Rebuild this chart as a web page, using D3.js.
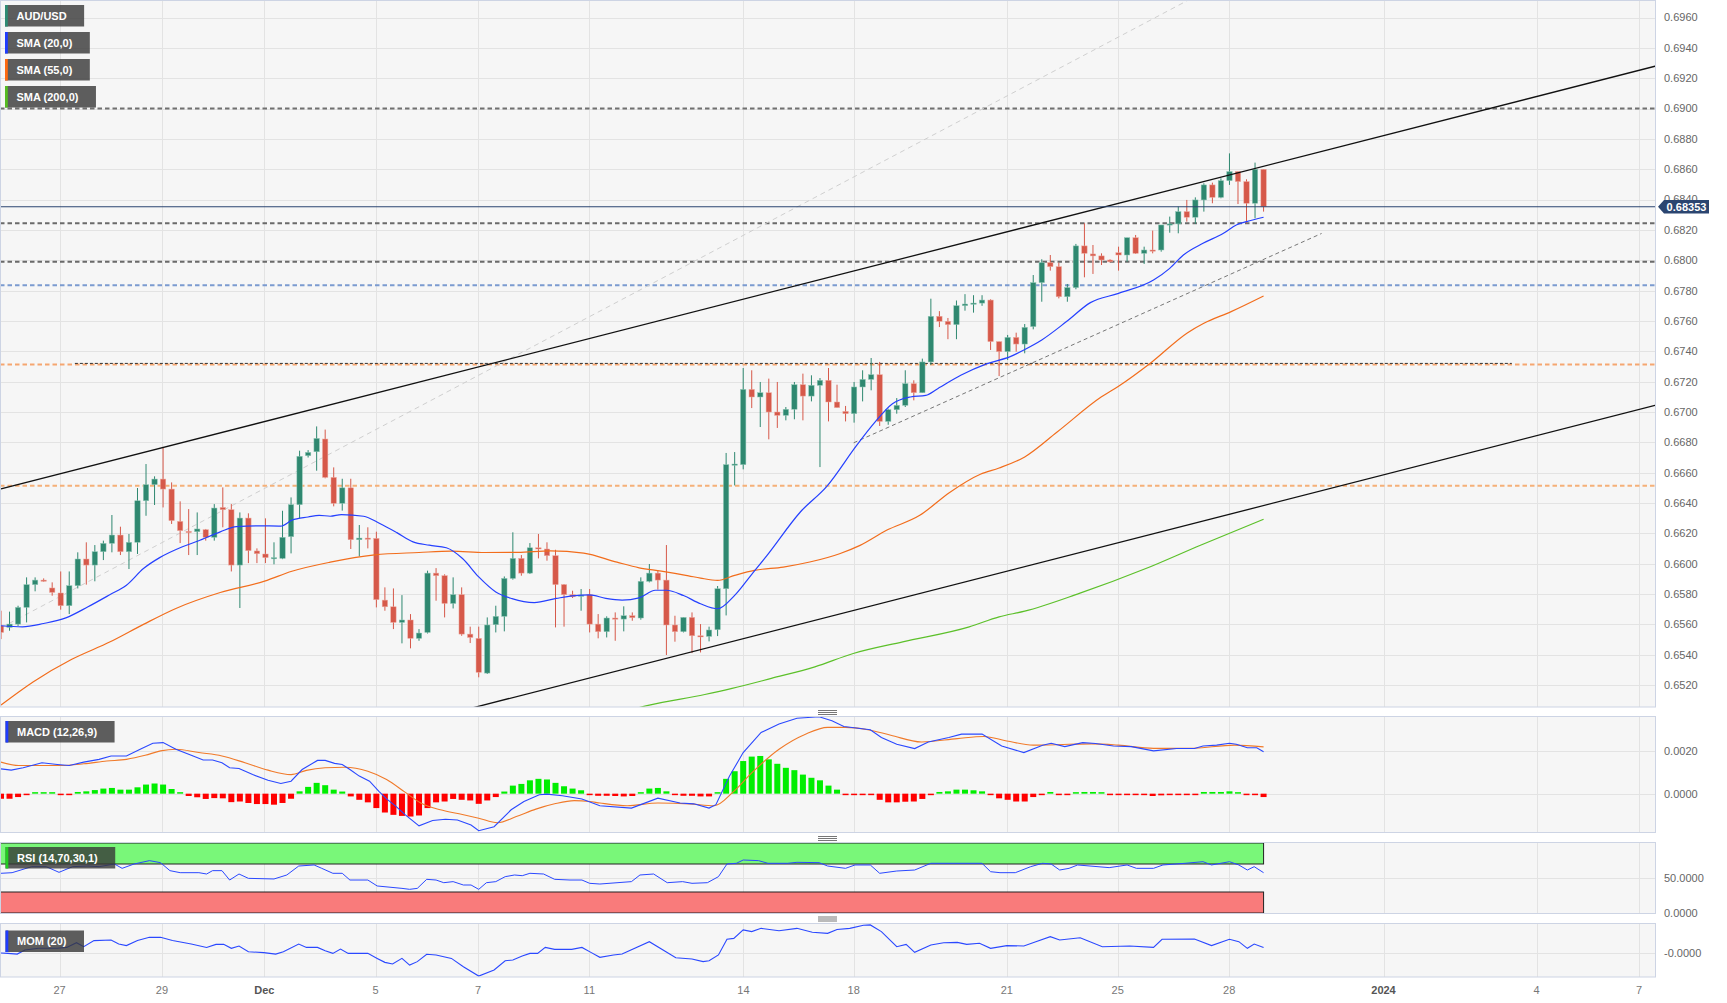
<!DOCTYPE html>
<html><head><meta charset="utf-8">
<script src="https://cdn.jsdelivr.net/npm/d3@7/dist/d3.min.js"></script>
<style>
html,body{margin:0;padding:0;background:#fff;}
svg{display:block;font-family:"Liberation Sans",Arial,Helvetica,sans-serif;}
</style></head><body>
<svg id="chart" width="1727" height="1003"></svg>
<script>
// ---------------- DATA ----------------
const opens=[0.65591,0.65580,0.65602,0.65712,0.65862,0.65892,0.65840,0.65807,0.65723,0.65855,
0.66031,0.65991,0.66079,0.66134,0.66189,0.66079,0.66141,0.66415,0.66521,0.66558,
0.66492,0.66279,0.66213,0.66211,0.66224,0.66174,0.66371,0.66356,0.65991,0.66301,
0.66084,0.66064,0.66035,0.66035,0.66178,0.66389,0.66712,0.66738,0.66822,0.66569,
0.66398,0.66500,0.66158,0.66169,0.66167,0.65760,0.65716,0.65613,0.65629,0.65508,
0.65547,0.65938,0.65921,0.65738,0.65796,0.65536,0.65508,0.65279,0.65598,0.65653,
0.65903,0.66035,0.65938,0.66105,0.66097,0.66053,0.65862,0.65796,0.65785,0.65796,
0.65602,0.65552,0.65642,0.65635,0.65657,0.65642,0.65884,0.65938,0.65892,0.65596,
0.65552,0.65646,0.65525,0.65521,0.65565,0.65835,0.66653,0.66653,0.67149,0.67099,
0.67127,0.67000,0.66978,0.67018,0.67180,0.67105,0.67176,0.67209,0.67066,0.67004,
0.66989,0.67165,0.67215,0.67246,0.66938,0.67015,0.67044,0.67187,0.67127,0.67330,
0.67631,0.67598,0.67576,0.67701,0.67712,0.67718,0.67738,0.67464,0.67398,0.67492,
0.67448,0.67563,0.67853,0.67985,0.67958,0.67760,0.67820,0.68095,0.68042,0.68029,
0.68002,0.68050,0.68035,0.68149,0.68046,0.68068,0.68068,0.68233,0.68240,0.68321,
0.68284,0.68398,0.68497,0.68415,0.68525,0.68585,0.68519,0.68376,0.68600];
const highs=[0.65690,0.65684,0.65723,0.65910,0.65910,0.65903,0.65877,0.65949,0.65949,0.66075,
0.66141,0.66123,0.66152,0.66321,0.66244,0.66196,0.66499,0.66657,0.66576,0.66767,
0.66536,0.66411,0.66360,0.66338,0.66229,0.66393,0.66503,0.66393,0.66338,0.66332,
0.66101,0.66299,0.66141,0.66349,0.66437,0.66745,0.66749,0.66905,0.66884,0.66635,
0.66560,0.66560,0.66255,0.66240,0.66211,0.65844,0.65837,0.65793,0.65668,0.65569,
0.65954,0.65971,0.65930,0.65910,0.65844,0.65585,0.65585,0.65646,0.65723,0.65916,
0.66207,0.66057,0.66136,0.66196,0.66141,0.66092,0.65866,0.65822,0.65833,0.65833,
0.65668,0.65653,0.65679,0.65719,0.65679,0.65910,0.65998,0.65954,0.66123,0.65657,
0.65646,0.65679,0.65602,0.65585,0.65853,0.66730,0.66736,0.67290,0.67275,0.67198,
0.67220,0.67198,0.67033,0.67198,0.67253,0.67242,0.67224,0.67290,0.67180,0.67040,
0.67198,0.67275,0.67356,0.67330,0.67022,0.67092,0.67275,0.67209,0.67352,0.67747,
0.67665,0.67620,0.67735,0.67777,0.67770,0.67770,0.67743,0.67464,0.67508,0.67523,
0.67580,0.67903,0.68007,0.68035,0.67985,0.67844,0.68108,0.68244,0.68101,0.68046,
0.68007,0.68090,0.68149,0.68167,0.68090,0.68196,0.68233,0.68288,0.68354,0.68398,
0.68415,0.68508,0.68512,0.68541,0.68705,0.68585,0.68534,0.68644,0.68600];
const lows=[0.65503,0.65558,0.65590,0.65613,0.65818,0.65881,0.65789,0.65697,0.65668,0.65837,
0.65862,0.65884,0.66024,0.66075,0.66057,0.65965,0.66064,0.66316,0.66387,0.66371,
0.66262,0.66136,0.66057,0.66057,0.66152,0.66152,0.66240,0.65949,0.65708,0.66004,
0.66004,0.66004,0.65996,0.66030,0.66068,0.66299,0.66700,0.66613,0.66563,0.66378,
0.66350,0.66097,0.66048,0.66101,0.65712,0.65690,0.65569,0.65475,0.65442,0.65492,
0.65540,0.65756,0.65646,0.65705,0.65525,0.65477,0.65251,0.65273,0.65547,0.65554,
0.65895,0.65921,0.65932,0.66035,0.66020,0.65580,0.65585,0.65774,0.65690,0.65547,
0.65508,0.65514,0.65492,0.65554,0.65624,0.65631,0.65877,0.65829,0.65398,0.65486,
0.65547,0.65411,0.65415,0.65488,0.65523,0.65659,0.66516,0.66622,0.67026,0.66901,
0.66820,0.66895,0.66945,0.66952,0.66945,0.67070,0.66637,0.66938,0.67029,0.66938,
0.66930,0.67070,0.67143,0.66908,0.66916,0.66989,0.67033,0.67077,0.67127,0.67310,
0.67560,0.67480,0.67480,0.67668,0.67655,0.67700,0.67409,0.67237,0.67343,0.67398,
0.67387,0.67545,0.67727,0.67932,0.67749,0.67727,0.67809,0.67888,0.67910,0.67969,
0.67985,0.67932,0.67991,0.68042,0.67976,0.68046,0.68057,0.68182,0.68178,0.68255,
0.68240,0.68321,0.68376,0.68409,0.68497,0.68371,0.68244,0.68277,0.68321];
const closes=[0.65547,0.65602,0.65712,0.65862,0.65892,0.65886,0.65811,0.65723,0.65855,0.66031,
0.65991,0.66079,0.66134,0.66189,0.66079,0.66141,0.66415,0.66521,0.66558,0.66492,
0.66284,0.66218,0.66207,0.66229,0.66174,0.66367,0.66356,0.65991,0.66301,0.66086,
0.66066,0.66040,0.66040,0.66174,0.66389,0.66708,0.66734,0.66826,0.66569,0.66398,
0.66500,0.66158,0.66169,0.66163,0.65763,0.65716,0.65613,0.65629,0.65508,0.65543,
0.65938,0.65921,0.65738,0.65796,0.65536,0.65514,0.65284,0.65596,0.65653,0.65903,
0.66035,0.65938,0.66105,0.66097,0.66053,0.65862,0.65796,0.65782,0.65793,0.65602,
0.65552,0.65642,0.65635,0.65657,0.65644,0.65884,0.65938,0.65892,0.65596,0.65552,
0.65646,0.65525,0.65521,0.65563,0.65835,0.66653,0.66657,0.67149,0.67099,0.67127,
0.67000,0.66978,0.67018,0.67180,0.67105,0.67176,0.67209,0.67066,0.67029,0.66989,
0.67165,0.67215,0.67246,0.66938,0.67015,0.67044,0.67187,0.67127,0.67330,0.67631,
0.67598,0.67576,0.67701,0.67712,0.67718,0.67738,0.67464,0.67398,0.67492,0.67448,
0.67558,0.67853,0.67985,0.67958,0.67760,0.67820,0.68095,0.68046,0.68029,0.68002,
0.67990,0.68035,0.68149,0.68046,0.68068,0.68064,0.68233,0.68240,0.68321,0.68284,
0.68398,0.68497,0.68415,0.68525,0.68585,0.68519,0.68376,0.68600,0.68353];

const sma20=[[0,0.65591],[2.5,0.65584],[5,0.65606],[7.6,0.65643],[10.2,0.65716],[12.8,0.65797],[14.7,0.65858],[16.7,0.65968],[18.6,0.66040],[21.2,0.66110],[23.1,0.66150],[25.7,0.66210],[27.6,0.66245],[30.2,0.66250],[32.8,0.66248],[34.1,0.66287],[36,0.66308],[37.3,0.66319],[38.6,0.66313],[39.9,0.66324],[42.5,0.66313],[44.4,0.66265],[46.4,0.66205],[48.3,0.66144],[50.2,0.66122],[52.2,0.66105],[54.1,0.66034],[56,0.65913],[58,0.65814],[59.9,0.65770],[62.5,0.65744],[65.1,0.65771],[67,0.65788],[69,0.65795],[70.9,0.65771],[72.8,0.65760],[74.8,0.65775],[76.7,0.65825],[78,0.65825],[80,0.65790],[82,0.65736],[84,0.65703],[86,0.65791],[88,0.65930],[89.8,0.66055],[93.7,0.66341],[96.8,0.66510],[100.3,0.66780],[102.3,0.66923],[104.5,0.67055],[106.6,0.67099],[108.4,0.67110],[109.8,0.67154],[112.5,0.67242],[115.6,0.67319],[118.3,0.67365],[119.9,0.67409],[122,0.67475],[124.9,0.67596],[127.7,0.67721],[131,0.67782],[135.1,0.67870],[137,0.67947],[138.6,0.68035],[140.9,0.68112],[143.3,0.68178],[144.8,0.68233],[146,0.68255],[148,0.68284]];
const sma55=[[0,0.65068],[3.8,0.65222],[8.3,0.65370],[12.8,0.65485],[16.7,0.65600],[20.5,0.65705],[25.7,0.65810],[30.9,0.65885],[34.1,0.65950],[38.6,0.66010],[43.8,0.66058],[49,0.66074],[52.8,0.66083],[56.7,0.66074],[60.6,0.66075],[64.4,0.66085],[68.3,0.66070],[72.2,0.66010],[74.8,0.65973],[77.4,0.65951],[80.6,0.65920],[82,0.65905],[84,0.65890],[86,0.65923],[88.3,0.65956],[91.7,0.65978],[94.8,0.66011],[98.3,0.66066],[100.7,0.66121],[103.8,0.66220],[107.7,0.66319],[111.2,0.66470],[114.8,0.66590],[117,0.66631],[120,0.66704],[123.8,0.66868],[129,0.67100],[131,0.67170],[134.8,0.67325],[139.1,0.67523],[141,0.67585],[144.2,0.67662],[148,0.67765]];
const sma200=[[74,0.65040],[76,0.65068],[82.5,0.65138],[85.7,0.65178],[90.3,0.65244],[95.4,0.65320],[99.9,0.65408],[105.7,0.65485],[113.5,0.65584],[117,0.65650],[120,0.65687],[126.4,0.65804],[134.2,0.65968],[140.6,0.66122],[148,0.66293]];

const macdLine=[[0,0.00117],[1.2,0.00111],[2.6,0.00122],[4.8,0.00146],[6.6,0.00138],[8,0.00133],[9.7,0.00149],[11.5,0.00162],[12.9,0.00178],[14.7,0.00178],[16.5,0.00213],[17.8,0.00238],[19,0.00241],[20.5,0.00210],[22.3,0.00181],[23.7,0.00159],[24.8,0.00159],[25.9,0.00146],[26.8,0.00122],[27.9,0.00119],[29.5,0.00090],[31.3,0.00063],[32.8,0.00048],[34,0.00059],[35.3,0.00114],[37.1,0.00157],[38,0.00157],[39.1,0.00143],[40,0.00138],[40.9,0.00114],[42,0.00083],[43.2,0.00059],[44.3,0.00011],[45.2,-0.00025],[46.3,-0.00060],[47.4,-0.00100],[49,-0.00152],[50.6,-0.00127],[52.1,-0.00121],[53.5,-0.00124],[55.1,-0.00148],[56,-0.00175],[57.8,-0.00156],[59.8,-0.00076],[61.3,-0.00037],[63.1,-0.00005],[64,-0.00002],[65.8,-0.00010],[68.1,-0.00025],[70.2,-0.00057],[73.9,-0.00068],[77,-0.00021],[79.6,-0.00044],[81.2,-0.00048],[83,-0.00068],[83.8,-0.00052],[85.4,0.00083],[87,0.00194],[89.1,0.00289],[91.2,0.00329],[93.3,0.00356],[95.9,0.00363],[97.4,0.00344],[98.8,0.00317],[101.9,0.00302],[103.2,0.00265],[105,0.00233],[107.1,0.00213],[108.7,0.00244],[111.1,0.00265],[112.6,0.00281],[115,0.00281],[117.3,0.00225],[119.9,0.00194],[122.1,0.00229],[123.1,0.00238],[124.7,0.00222],[126.8,0.00241],[128.3,0.00237],[130.4,0.00225],[132.5,0.00222],[135.1,0.00202],[137.8,0.00213],[139.9,0.00213],[140.9,0.00225],[142.5,0.00229],[144,0.00238],[144.8,0.00233],[146.1,0.00217],[147.2,0.00217],[148,0.00198]];
const macdSignal=[[0,0.00149],[2.1,0.00133],[4.4,0.00133],[7,0.00133],[9.7,0.00141],[12.4,0.00154],[14.7,0.00162],[16.9,0.00181],[18.7,0.00202],[20.5,0.00210],[23.2,0.00194],[25.9,0.00178],[28.6,0.00146],[31.3,0.00111],[34,0.00090],[35.8,0.00110],[38,0.00122],[40.3,0.00125],[43,0.00106],[45.2,0.00067],[47.4,0.00006],[49.2,-0.00044],[51.5,-0.00076],[53.7,-0.00095],[56,-0.00116],[58.2,-0.00137],[60.4,-0.00108],[62.7,-0.00073],[64.9,-0.00048],[67.2,-0.00033],[69,-0.00037],[70.2,-0.00044],[73.4,-0.00057],[77,-0.00044],[80.7,-0.00048],[83.6,-0.00057],[85.9,0.00011],[88,0.00098],[91.2,0.00210],[94.3,0.00281],[96.9,0.00313],[99,0.00313],[101.6,0.00302],[104.3,0.00276],[107.9,0.00244],[112.1,0.00260],[115.2,0.00270],[117.9,0.00249],[121,0.00229],[125.2,0.00233],[127.8,0.00235],[131,0.00229],[135.1,0.00214],[139.3,0.00214],[144.6,0.00229],[148,0.00221]];
const macdHist=[-0.00024,-0.00024,-0.00016,-0.00006,0.00005,0.00006,0.00003,-0.00002,-0.00002,0.00008,
0.00011,0.00017,0.00024,0.00027,0.00019,0.00019,0.00030,0.00043,0.00048,0.00043,
0.00022,0.00002,-0.00011,-0.00017,-0.00025,-0.00021,-0.00022,-0.00040,-0.00037,-0.00044,
-0.00049,-0.00049,-0.00052,-0.00044,-0.00024,0.00011,0.00032,0.00051,0.00040,0.00019,
0.00010,-0.00013,-0.00029,-0.00041,-0.00068,-0.00089,-0.00100,-0.00105,-0.00108,-0.00103,
-0.00068,-0.00041,-0.00037,-0.00025,-0.00029,-0.00032,-0.00048,-0.00032,-0.00016,0.00010,
0.00038,0.00046,0.00063,0.00070,0.00067,0.00051,0.00035,0.00024,0.00016,-0.00002,
-0.00010,-0.00010,-0.00011,-0.00013,-0.00011,0.00005,0.00024,0.00027,0.00011,-0.00002,
-0.00010,-0.00010,-0.00013,-0.00013,0.00006,0.00070,0.00106,0.00154,0.00175,0.00178,
0.00162,0.00141,0.00122,0.00111,0.00090,0.00075,0.00063,0.00038,0.00019,-0.00002,
-0.00003,-0.00005,-0.00006,-0.00029,-0.00041,-0.00041,-0.00038,-0.00037,-0.00025,-0.00003,
0.00008,0.00011,0.00019,0.00019,0.00016,0.00011,-0.00005,-0.00022,-0.00029,-0.00037,
-0.00037,-0.00016,-0.00002,0.00008,-0.00002,-0.00002,0.00006,0.00008,0.00008,0.00001,
-0.00002,-0.00003,-0.00003,-0.00002,-0.00006,-0.00011,-0.00008,-0.00005,-0.00002,-0.00002,
-0.00002,0.00008,0.00008,0.00008,0.00011,0.00006,-0.00003,-0.00003,-0.00016];

const rsiLine=[[0,56.7],[1.3,57.6],[3.6,66.2],[5.3,66.2],[6.8,58.1],[8.4,66.2],[10.2,67.1],[11.5,66.2],[13.3,70],[14.2,63.8],[15.6,70],[17.4,74.8],[18.7,71.9],[19.8,60.5],[21,57.6],[23.2,57.6],[24.1,55.7],[24.8,60.5],[25.9,60.5],[26.8,47.1],[27.9,55.7],[29,49.5],[32,48.6],[33.5,54.3],[34.9,67.1],[36.7,68.6],[37.6,63.8],[38.9,56.7],[40,56.7],[40.9,47.1],[43,47.1],[44.1,38.6],[47,35.2],[47.9,33.8],[48.8,35.2],[49.9,48.1],[51,47.1],[51.9,43.3],[53,44.8],[54.2,40],[55.1,40],[56,33.8],[56.9,43.3],[58,44.8],[59.1,51.9],[60.2,54.3],[61.1,53.3],[62,56.7],[63.6,55.7],[64.9,48.1],[66.7,47.1],[68.1,47.1],[69,42.4],[70.2,41.4],[73.9,44.8],[74.9,54.3],[76.5,55.7],[78.1,43.3],[79.9,44.8],[81,42.4],[82.8,43.3],[84.1,51.9],[85.1,70],[86.2,71],[87,75.7],[88.8,74.8],[89.9,71],[92.2,71],[93.3,72.4],[95.9,71.9],[96.9,67.1],[99,63.8],[100.1,68.6],[101.9,68.6],[103,56.7],[105,60],[107.1,61.4],[109,71],[111.6,71],[115,71],[116,59],[117.1,57.6],[118.9,57.6],[120.7,66.2],[122.1,71],[123.1,70],[124.1,61.4],[125.2,63.8],[126.2,68.6],[129.9,64.8],[132,68.6],[133.1,63.8],[135.1,63.8],[136.2,68.6],[138.8,71],[140.9,73.3],[141.9,68.6],[144,73.3],[145.1,68.6],[146.1,61.4],[146.9,66.2],[148,57.6]];
const momLine=[[0,0.0000],[0.8,-0.0002],[1.9,-0.0006],[2.8,0.0017],[4.4,0.0026],[6.6,0.0026],[7.7,0.0031],[8.85,0.0057],[9.7,0.0035],[10.9,0.0069],[12.9,0.0072],[13.8,0.0050],[14.7,0.0041],[16,0.0069],[17.4,0.0087],[18.7,0.0087],[20.1,0.0069],[22.3,0.0050],[24.1,0.0031],[25.2,0.0048],[26.1,0.0048],[27,0.0026],[27.9,0.0039],[29,0.0007],[30.8,0.0002],[32.2,-0.0006],[33.1,0.0007],[34.9,0.0050],[35.8,0.0031],[37.1,0.0031],[38,0.0013],[38.9,-0.0002],[39.8,0.0022],[40.7,-0.0002],[43,-0.0002],[44.1,-0.0030],[45,-0.0052],[45.9,-0.0061],[47,-0.0030],[47.9,-0.0067],[48.8,-0.0048],[49.9,-0.0007],[51,-0.0011],[52.8,-0.0030],[54.2,-0.0076],[56,-0.0128],[57.8,-0.0094],[59.1,-0.0043],[60,-0.0039],[61.1,-0.0017],[62,-0.0002],[62.9,-0.0002],[63.8,0.0031],[64.9,0.0020],[66.9,0.0020],[68.1,0.0031],[69.2,0.0002],[70.2,-0.0024],[71.8,-0.0011],[72.8,-0.0006],[76,0.0063],[79.1,-0.0026],[81,-0.0033],[82.3,-0.0048],[83,-0.0043],[84.1,-0.0011],[85.1,0.0076],[85.9,0.0081],[87,0.0128],[88,0.0119],[89.1,0.0137],[91.2,0.0124],[93.3,0.0137],[95.1,0.0115],[96.9,0.0109],[98,0.0131],[99.5,0.0137],[101.1,0.0154],[101.9,0.0156],[103.2,0.0119],[105,0.0035],[106.1,0.0048],[107.1,0.0004],[109,0.0044],[110.5,0.0057],[112.1,0.0059],[113.2,0.0048],[114.7,0.0054],[116,0.0026],[117.9,0.0041],[119.9,0.0039],[121.3,0.0063],[123,0.0091],[124.1,0.0072],[126.5,0.0085],[129.1,0.0035],[132.3,0.0039],[135.1,0.0031],[136.1,0.0076],[139.9,0.0078],[141.9,0.0041],[144,0.0076],[145.1,0.0063],[146.1,0.0026],[146.9,0.0050],[148,0.0031]];

const priceTicks=[0.6520,0.6540,0.6560,0.6580,0.6600,0.6620,0.6640,0.6660,0.6680,0.6700,0.6720,0.6740,0.6760,0.6780,0.6800,0.6820,0.6840,0.6860,0.6880,0.6900,0.6920,0.6940,0.6960];
const macdTicks=[0.0020,0.0000];
const rsiTicks=[50,0];
const momTicks=[-0.00001];
const xTickLabels=["27","29","Dec","5","7","11","14","18","21","25","28","2024","4","7"];
const xTickPos=[6.86,18.86,30.87,43.92,55.92,68.96,87.03,99.95,117.9,130.9,143.97,162.06,180.0,192.0];
const xTickBold=["Dec","2024"];

const levelValues=[0.6900,0.68245,0.67990,0.67835,0.67313,0.66514];
const levelColors=["#707070","#6a6a6a","#6a6a6a","#7b9bd0","#f5a670","#f5b078"];
const lastPrice=0.68353;
const channelUpper=[[0,0.66493],[194,0.69281]];
const channelLower=[[40,0.64830],[194,0.67045]];
const faintTrend=[[0,0.65578],[139.2,0.69716]];
const dashTrend=[[99.95,0.66797],[154.8,0.68177]];
const shortBlackLevel=[[8.66,0.67317],[177.1,0.67317]];
const rsiBands=[{from:70,to:100,color:"#79f779"},{from:0,to:30,color:"#f97b7b"}];

const legendMain=[{t:"AUD/USD",c:"#2e8b73"},{t:"SMA (20,0)",c:"#1f3cff"},{t:"SMA (55,0)",c:"#ff6a10"},{t:"SMA (200,0)",c:"#55bb22"}];

// ---------------- DRAW ----------------
const svg=d3.select("#chart");
const defs=svg.append("defs");
const PW=1655;
const x=d3.scaleLinear().domain([0,194]).range([1,1656]);
const yMain=d3.scaleLinear().domain([0.650554,0.69716]).range([707,0]);
const yMacd=d3.scaleLinear().domain([-0.001857,0.0036667]).range([833,716]);
const yRsi=d3.scaleLinear().domain([0,100]).range([913,843]);
const yMom=d3.scaleLinear().domain([-0.013333,0.016111]).range([977,924]);

const panels=[
 {id:"pMain",y0:0.5,y1:707},
 {id:"pMacd",y0:716.5,y1:832.5},
 {id:"pRsi",y0:842.5,y1:913.5},
 {id:"pMom",y0:923.5,y1:977}
];
panels.forEach(p=>{
 defs.append("clipPath").attr("id",p.id+"c").append("rect").attr("x",0.5).attr("y",p.y0).attr("width",PW).attr("height",p.y1-p.y0);
 svg.append("rect").attr("x",0.5).attr("y",p.y0).attr("width",PW).attr("height",p.y1-p.y0).attr("fill","#f6f6f6");
 p.g=svg.append("g").attr("clip-path",`url(#${p.id}c)`);
 // vertical grid
 p.g.selectAll("line.vg").data(xTickPos).enter().append("line")
  .attr("x1",d=>Math.round(x(d))+0.5).attr("x2",d=>Math.round(x(d))+0.5)
  .attr("y1",p.y0).attr("y2",p.y1).attr("stroke","#e3e3e3").attr("stroke-width",1);
});
const [gMain,gMacd,gRsi,gMom]=panels.map(p=>p.g);

function hgrid(g,ys){
 g.selectAll(null).data(ys).enter().append("line").attr("x1",0).attr("x2",PW+1)
  .attr("y1",d=>Math.round(d)+0.5).attr("y2",d=>Math.round(d)+0.5).attr("stroke","#e3e3e3");
}
hgrid(gMain,priceTicks.map(yMain));
hgrid(gMacd,macdTicks.map(yMacd));
hgrid(gRsi,[yRsi(50)]);
hgrid(gMom,[yMom(0)]);

// horizontal levels
gMain.selectAll(null).data(levelValues).enter().append("line")
 .attr("x1",0).attr("x2",PW+1).attr("y1",d=>yMain(d)).attr("y2",d=>yMain(d))
 .attr("stroke",(d,i)=>levelColors[i]).attr("stroke-width",2).attr("stroke-dasharray","4.5,3");
gMain.append("line").attr("x1",x(shortBlackLevel[0][0])).attr("x2",x(shortBlackLevel[1][0]))
 .attr("y1",yMain(shortBlackLevel[0][1])-0.5).attr("y2",yMain(shortBlackLevel[1][1])-0.5)
 .attr("stroke","#333").attr("stroke-width",1).attr("stroke-dasharray","3,2");

const lineGen=(ys)=>d3.line().x(d=>x(d[0])).y(d=>ys(d[1]));
// faint trend
gMain.append("path").attr("d",lineGen(yMain)(faintTrend)).attr("fill","none").attr("stroke","#cfcfcf").attr("stroke-width",1).attr("stroke-dasharray","5,4");
gMain.append("path").attr("d",lineGen(yMain)(dashTrend)).attr("fill","none").attr("stroke","#777").attr("stroke-width",1).attr("stroke-dasharray","4,3");

// candles
const idx=d3.range(closes.length);
const bw=5.4;
const cg=gMain.append("g");
cg.selectAll("line.w").data(idx).enter().append("line")
 .attr("x1",i=>x(i)).attr("x2",i=>x(i)).attr("y1",i=>yMain(highs[i])).attr("y2",i=>yMain(lows[i]))
 .attr("stroke",i=>closes[i]>=opens[i]?"#2f8870":"#d6594a").attr("stroke-width",1);
cg.selectAll("rect.b").data(idx).enter().append("rect")
 .attr("x",i=>x(i)-bw/2).attr("width",bw)
 .attr("y",i=>yMain(Math.max(opens[i],closes[i])))
 .attr("height",i=>Math.max(1.2,Math.abs(yMain(opens[i])-yMain(closes[i]))))
 .attr("fill",i=>closes[i]>=opens[i]?"#2f8870":"#d6594a")
 .attr("stroke",i=>closes[i]>=opens[i]?"#8fc7b6":"#eeaaa0").attr("stroke-width",0.5);

// SMAs
const smooth=(ys)=>d3.line().x(d=>x(d[0])).y(d=>ys(d[1])).curve(d3.curveMonotoneX);
gMain.append("path").attr("d",smooth(yMain)(sma200)).attr("fill","none").attr("stroke","#5cc02a").attr("stroke-width",1.2);
gMain.append("path").attr("d",smooth(yMain)(sma55)).attr("fill","none").attr("stroke","#f26d1c").attr("stroke-width",1.2);
gMain.append("path").attr("d",smooth(yMain)(sma20)).attr("fill","none").attr("stroke","#2540ff").attr("stroke-width",1.2);

// channel
gMain.append("path").attr("d",lineGen(yMain)(channelUpper)).attr("stroke","#111").attr("stroke-width",1.3).attr("fill","none");
gMain.append("path").attr("d",lineGen(yMain)(channelLower)).attr("stroke","#111").attr("stroke-width",1.3).attr("fill","none");

// last price line
gMain.append("line").attr("x1",0).attr("x2",PW+1).attr("y1",yMain(lastPrice)).attr("y2",yMain(lastPrice)).attr("stroke","#2b4570").attr("stroke-width",1.2);

// MACD
const y0m=yMacd(0);
gMacd.selectAll(null).data(idx).enter().append("rect")
 .attr("x",i=>x(i)-3).attr("width",6)
 .attr("y",i=>macdHist[i]>=0?Math.min(y0m-1.5,yMacd(macdHist[i])):y0m)
 .attr("height",i=>Math.max(1.5,Math.abs(yMacd(macdHist[i])-y0m)))
 .attr("fill",i=>macdHist[i]>=0?"#00ee00":"#ff0000");
gMacd.append("path").attr("d",smooth(yMacd)(macdSignal)).attr("fill","none").attr("stroke","#f07a2a").attr("stroke-width",1.1);
gMacd.append("path").attr("d",lineGen(yMacd)(macdLine)).attr("fill","none").attr("stroke","#2a48ff").attr("stroke-width",1.1);

// RSI
rsiBands.forEach(b=>{
 gRsi.append("rect").attr("x",-1).attr("width",x(148)+1)
  .attr("y",yRsi(b.to)).attr("height",yRsi(b.from)-yRsi(b.to))
  .attr("fill",b.color).attr("stroke","#222").attr("stroke-width",1);
});
gRsi.append("path").attr("d",lineGen(yRsi)(rsiLine)).attr("fill","none").attr("stroke","#2a48ff").attr("stroke-width",1);

// MOM
gMom.append("path").attr("d",lineGen(yMom)(momLine)).attr("fill","none").attr("stroke","#2a48ff").attr("stroke-width",1.1);

// panel borders
panels.forEach(p=>{
 svg.append("rect").attr("x",0.5).attr("y",p.y0).attr("width",PW).attr("height",p.y1-p.y0)
  .attr("fill","none").attr("stroke","#cdd4e4").attr("stroke-width",1);
});

// right axis labels
const axisX=1664;
const lab=(v,y,txt)=>svg.append("text").attr("x",axisX).attr("y",y).attr("dy","0.35em")
 .attr("font-size",11).attr("fill","#666").text(txt);
priceTicks.forEach(v=>lab(v,yMain(v),v.toFixed(4)));
macdTicks.forEach(v=>lab(v,yMacd(v),v.toFixed(4)));
rsiTicks.forEach(v=>lab(v,yRsi(v),v.toFixed(4)));
momTicks.forEach(v=>lab(v,yMom(v),"-"+Math.abs(v).toFixed(4)));

// last price tag
const ly=yMain(lastPrice);
svg.append("path").attr("d",`M${1658},${ly} L${1664},${ly-6.7} H${1709} V${ly+6.7} H${1664} Z`).attr("fill","#2b4570");
svg.append("text").attr("x",1686.5).attr("y",ly).attr("dy","0.36em").attr("text-anchor","middle")
 .attr("font-size",11).attr("font-weight","bold").attr("fill","#fff").text(lastPrice.toFixed(5));

// x axis labels
svg.selectAll("text.xl").data(xTickLabels).enter().append("text")
 .attr("x",(d,i)=>x(xTickPos[i])).attr("y",990).attr("dy","0.35em").attr("text-anchor","middle")
 .attr("font-size",11)
 .attr("font-weight",d=>xTickBold.includes(d)?"bold":"normal")
 .attr("fill",d=>xTickBold.includes(d)?"#555":"#777").text(d=>d);

// handles
[712,838,918.5].forEach(hy=>{
 [-2,0,2].forEach(o=>svg.append("line").attr("x1",818).attr("x2",837).attr("y1",hy+o+0.5).attr("y2",hy+o+0.5).attr("stroke","#777").attr("stroke-width",1));
});

// legends
function legend(items,x0,y0,step){
 items.forEach((it,k)=>{
  const g=svg.append("g").attr("transform",`translate(${x0},${y0+k*step})`);
  const bg=g.append("rect").attr("x",0).attr("y",0).attr("height",21.5).attr("fill","rgba(55,55,55,0.8)");
  g.append("rect").attr("x",0).attr("y",0).attr("width",2.8).attr("height",21.5).attr("fill",it.c);
  const t=g.append("text").attr("x",11.5).attr("y",11).attr("dy","0.36em").attr("font-size",11)
   .attr("font-weight","bold").attr("fill","#fff").text(it.t);
  const w=t.node().getComputedTextLength();
  bg.attr("width",11.5+w+17.5);
 });
}
legend(legendMain,5,5,27);
legend([{t:"MACD (12,26,9)",c:"#1f3cff"}],5.5,721,0);
legend([{t:"RSI (14,70,30,1)",c:"#22cc22"}],5.5,847,0);
legend([{t:"MOM (20)",c:"#1f3cff"}],5.5,930.5,0);
</script>
</body></html>
